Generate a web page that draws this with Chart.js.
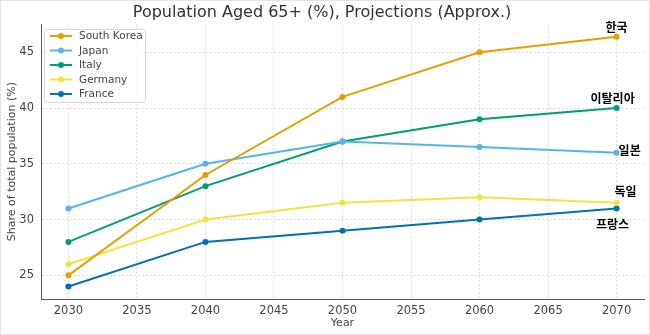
<!DOCTYPE html>
<html>
<head>
<meta charset="utf-8">
<script src="https://cdn.jsdelivr.net/npm/chart.js@4"></script>
<style>
  html, body { margin: 0; padding: 0; background: #fff; }
  #wrap { width: 650px; height: 335px; }
</style>
</head>
<body>
<div id="wrap"><canvas id="chart" width="650" height="335"></canvas></div>
<script>
const years = [2030, 2040, 2050, 2060, 2070];
const countries = ['South Korea', 'Japan', 'Italy', 'Germany', 'France'];
const koreaVals = [25, 34, 41, 45, 46.4];
const japanVals = [31, 35, 37, 36.5, 36];
const italyVals = [28, 33, 37, 39, 40];
const germanyVals = [26, 30, 31.5, 32, 31.5];
const franceVals = [24, 28, 29, 30, 31];
const koreanNames = ['한국', '일본', '이탈리아', '독일', '프랑스'];
const colors = ['#E69F00', '#56B4E9', '#009E73', '#F0E442', '#0072B2'];

const allVals = [koreaVals, japanVals, italyVals, germanyVals, franceVals];

// label offsets relative to the last point
const labelPos = [
    { dx: 0, dy: -9, align: 'center' },
    { dx: 2, dy: -2, align: 'left' },
    { dx: -4, dy: -10, align: 'center' },
    { dx: 9, dy: -11, align: 'center' },
    { dx: -4, dy: 16, align: 'center' }
];

const endLabels = {
    id: 'endLabels',
    afterDatasetsDraw(chart) {
        const ctx = chart.ctx;
        const xs = chart.scales.x, ys = chart.scales.y;
        ctx.save();
        ctx.font = 'bold 12px "Noto Sans CJK KR"';
        ctx.fillStyle = '#000';
        ctx.textBaseline = 'middle';
        allVals.forEach((vals, i) => {
            const last = vals.length - 1;
            const px = xs.getPixelForValue(years[last]);
            const py = ys.getPixelForValue(vals[last]);
            ctx.textAlign = labelPos[i].align;
            ctx.fillText(koreanNames[i], px + labelPos[i].dx, py + labelPos[i].dy);
        });
        ctx.restore();
    }
};

const boxLegend = {
    id: 'boxLegend',
    afterDraw(chart) {
        const ctx = chart.ctx;
        const x0 = 44, y0 = 29, w = 101, h = 73;
        ctx.save();
        ctx.fillStyle = 'rgba(255,255,255,0.85)';
        ctx.strokeStyle = '#d6d6d6';
        ctx.lineWidth = 1;
        ctx.beginPath();
        ctx.roundRect(x0 + 0.5, y0 + 0.5, w, h, 3);
        ctx.fill();
        ctx.stroke();
        ctx.font = '10.5px "DejaVu Sans"';
        ctx.textBaseline = 'middle';
        ctx.textAlign = 'left';
        countries.forEach((name, i) => {
            const y = y0 + 7 + i * 14.5;
            ctx.strokeStyle = colors[i];
            ctx.lineWidth = 2;
            ctx.beginPath();
            ctx.moveTo(x0 + 6, y);
            ctx.lineTo(x0 + 28, y);
            ctx.stroke();
            ctx.fillStyle = colors[i];
            ctx.beginPath();
            ctx.arc(x0 + 17, y, 3, 0, Math.PI * 2);
            ctx.fill();
            ctx.fillStyle = '#444';
            ctx.fillText(name, x0 + 35, y + 0.5);
        });
        // faint frame round the picture
        ctx.strokeStyle = '#e4e4e4';
        ctx.lineWidth = 1;
        ctx.strokeRect(0.5, 0.5, chart.width - 1, chart.height - 1);
        ctx.restore();
    }
};

new Chart(document.getElementById('chart'), {
    type: 'line',
    data: {
        datasets: countries.map((name, i) => ({
            label: name,
            data: years.map((yr, j) => ({ x: yr, y: allVals[i][j] })),
            borderColor: colors[i],
            backgroundColor: colors[i],
            borderWidth: 2,
            pointRadius: 3,
            pointHoverRadius: 3,
            pointBorderWidth: 0,
            tension: 0
        }))
    },
    options: {
        responsive: false,
        animation: false,
        layout: { padding: { left: 0, right: 6, top: 0, bottom: 0 } },
        plugins: {
            legend: { display: false },
            tooltip: { enabled: false },
            title: {
                display: true,
                text: 'Population Aged 65+ (%), Projections (Approx.)',
                color: '#333',
                font: { family: 'DejaVu Sans', size: 16, weight: 'normal' },
                padding: { top: 3, bottom: 2 }
            }
        },
        scales: {
            x: {
                type: 'linear',
                min: 2028,
                max: 2072,
                afterFit: s => { s.height = 36; },
                ticks: {
                    stepSize: 5,
                    includeBounds: false,
                    color: '#444',
                    font: { family: 'DejaVu Sans', size: 11.5 },
                    padding: 1,
                    callback: v => String(v)
                },
                grid: { color: '#dcdcdc', tickLength: 4, tickColor: 'rgba(0,0,0,0)' },
                border: { color: '#555', width: 1, dash: [2, 2] },
                title: {
                    display: true,
                    text: 'Year',
                    color: '#444',
                    font: { family: 'DejaVu Sans', size: 11 },
                    padding: { top: 0, bottom: 5 }
                }
            },
            y: {
                min: 22.88,
                max: 47.52,
                afterFit: s => { s.width = 41; },
                ticks: {
                    stepSize: 5,
                    includeBounds: false,
                    color: '#444',
                    font: { family: 'DejaVu Sans', size: 11.5 },
                    padding: 3
                },
                grid: { color: '#dcdcdc', tickLength: 4, tickColor: 'rgba(0,0,0,0)' },
                border: { color: '#555', width: 1, dash: [2, 2] },
                title: {
                    display: true,
                    text: 'Share of total population (%)',
                    color: '#444',
                    font: { family: 'DejaVu Sans', size: 11 },
                    padding: { top: 6, bottom: 0 }
                }
            }
        }
    },
    plugins: [endLabels, boxLegend]
});
</script>
</body>
</html>
